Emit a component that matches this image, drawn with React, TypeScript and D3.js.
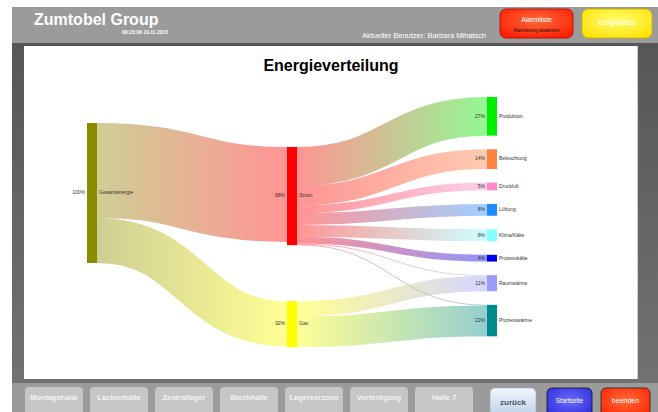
import { useMemo } from "react";
import * as d3 from "d3";

// Knoten (Sankey)
const nodeNames = [
  "Gesamtenergie",
  "Strom",
  "Gas",
  "Produktion",
  "Beleuchtung",
  "Druckluft",
  "Lüftung",
  "Klima/Kälte",
  "Prozesskälte",
  "Raumwärme",
  "Prozesswärme",
];
const nodeShares = ["100%", "68%", "32%", "27%", "14%", "5%", "8%", "8%", "4%", "11%", "22%"];
const nodeColumns = [0, 1, 1, 2, 2, 2, 2, 2, 2, 2, 2];
const nodeColors = [
  "#8b8b00",
  "#ff0000",
  "#ffff00",
  "#00ee00",
  "#ff8444",
  "#ff88cc",
  "#1e8cff",
  "#88ffff",
  "#0000ee",
  "#9b9bff",
  "#008b8b",
];

// Flüsse
const linkSources = [
  "Gesamtenergie",
  "Gesamtenergie",
  "Strom",
  "Strom",
  "Strom",
  "Strom",
  "Strom",
  "Strom",
  "Strom",
  "Strom",
  "Gas",
  "Gas",
];
const linkTargets = [
  "Strom",
  "Gas",
  "Produktion",
  "Beleuchtung",
  "Druckluft",
  "Lüftung",
  "Klima/Kälte",
  "Prozesskälte",
  "Raumwärme",
  "Prozesswärme",
  "Raumwärme",
  "Prozesswärme",
];
const linkValues = [67.3, 32, 27.4, 14, 5.5, 8.4, 8.4, 4.8, 0.6, 0.5, 10.8, 21.8];

// Navigation
const hallButtons = [
  "Montagehalle",
  "Lackierhalle",
  "Zentrallager",
  "Blechhalle",
  "Lagervorzone",
  "Vorfertigung",
  "Halle 7",
];

const W = 658;
const H = 412;
const NODE_W = 10;
const columnTop = [123, 147, 97];
const columnPadding = [0, 56, 13.6];
const FONT = "Arial, 'Liberation Sans', sans-serif";

type SNode = {
  name: string;
  share: string;
  color: string;
  col: number;
  value: number;
  x0: number;
  x1: number;
  y0: number;
  y1: number;
};
type SLink = {
  source: SNode;
  target: SNode;
  value: number;
  width: number;
  sy: number;
  ty: number;
};

function Sankey() {
  const { nodes, links } = useMemo(() => {
    const xScale = d3.scalePoint<number>().domain([0, 1, 2]).range([87, 487]);
    const hScale = d3.scaleLinear().domain([0, 100]).range([0, 141]);

    const nodes: SNode[] = nodeNames.map((name, i) => ({
      name,
      share: nodeShares[i],
      color: nodeColors[i],
      col: nodeColumns[i],
      value: 0,
      x0: xScale(nodeColumns[i]) ?? 0,
      x1: (xScale(nodeColumns[i]) ?? 0) + NODE_W,
      y0: 0,
      y1: 0,
    }));
    const byName = new Map(nodes.map((n) => [n.name, n]));
    const links: SLink[] = linkValues.map((v, i) => ({
      source: byName.get(linkSources[i])!,
      target: byName.get(linkTargets[i])!,
      value: v,
      width: hScale(v),
      sy: 0,
      ty: 0,
    }));

    nodes.forEach((n) => {
      const inV = d3.sum(links.filter((l) => l.target === n), (l) => l.value);
      const outV = d3.sum(links.filter((l) => l.source === n), (l) => l.value);
      n.value = Math.max(inV, outV);
    });

    // Spalten stapeln
    d3.range(3).forEach((c) => {
      let y = columnTop[c];
      nodes
        .filter((n) => n.col === c)
        .forEach((n) => {
          n.y0 = y;
          n.y1 = y + hScale(n.value);
          y = n.y1 + columnPadding[c];
        });
    });

    nodes.forEach((n) => {
      let y = n.y0;
      links
        .filter((l) => l.source === n)
        .sort((a, b) => a.target.y0 - b.target.y0)
        .forEach((l) => {
          l.sy = y + l.width / 2;
          y += l.width;
        });
      y = n.y0;
      links
        .filter((l) => l.target === n)
        .sort((a, b) => a.source.y0 - b.source.y0)
        .forEach((l) => {
          l.ty = y + l.width / 2;
          y += l.width;
        });
    });

    return { nodes, links };
  }, []);

  const linkPath = d3
    .linkHorizontal<{ source: [number, number]; target: [number, number] }, [number, number]>()
    .x((d) => d[0])
    .y((d) => d[1]);

  return (
    <g>
      <defs>
        {links.map((l, i) => (
          <linearGradient
            key={i}
            id={`lg-${i}`}
            gradientUnits="userSpaceOnUse"
            x1={l.source.x1}
            x2={l.target.x0}
            y1={0}
            y2={0}
          >
            <stop offset="0%" stopColor={l.source.color} />
            <stop offset="100%" stopColor={l.target.color} />
          </linearGradient>
        ))}
      </defs>
      {links.map((l, i) => (
        <path
          key={i}
          d={
            linkPath({
              source: [l.source.x1, l.sy],
              target: [l.target.x0, l.ty],
            }) ?? ""
          }
          fill="none"
          stroke={`url(#lg-${i})`}
          strokeOpacity={0.42}
          strokeWidth={Math.max(0.8, l.width)}
        />
      ))}
      {nodes.map((n) => (
        <g key={n.name}>
          <rect x={n.x0} y={n.y0} width={NODE_W} height={n.y1 - n.y0} fill={n.color} />
          <text
            x={n.x0 - 2}
            y={(n.y0 + n.y1) / 2}
            textAnchor="end"
            dominantBaseline="middle"
            fontSize={5}
            fill="#333"
            fontFamily={FONT}
          >
            {n.share}
          </text>
          <text
            x={n.x1 + 2}
            y={(n.y0 + n.y1) / 2}
            dominantBaseline="middle"
            fontSize={5}
            fill="#333"
            fontFamily={FONT}
          >
            {n.name}
          </text>
        </g>
      ))}
    </g>
  );
}

export default function App() {
  return (
    <div style={{ position: "absolute", left: 0, top: 0 }}>
      <svg width={W} height={H} viewBox={`0 0 ${W} ${H}`} style={{ display: "block" }}>
        <defs>
          <linearGradient id="frame" x1="0" y1="0" x2="0" y2="1">
            <stop offset="0%" stopColor="#565656" />
            <stop offset="100%" stopColor="#727272" />
          </linearGradient>
          <radialGradient id="alarm" cx="0.5" cy="0.4" r="0.7">
            <stop offset="0%" stopColor="#ff6a3a" />
            <stop offset="100%" stopColor="#ff1a00" />
          </radialGradient>
          <radialGradient id="event" cx="0.5" cy="0.4" r="0.7">
            <stop offset="0%" stopColor="#ffff70" />
            <stop offset="100%" stopColor="#ffe000" />
          </radialGradient>
          <linearGradient id="back" x1="0" y1="0" x2="0" y2="1">
            <stop offset="0%" stopColor="#f4f8ff" />
            <stop offset="100%" stopColor="#b8cce6" />
          </linearGradient>
          <radialGradient id="home" cx="0.5" cy="0.4" r="0.7">
            <stop offset="0%" stopColor="#6a6aff" />
            <stop offset="100%" stopColor="#2a2ad8" />
          </radialGradient>
          <radialGradient id="quit" cx="0.5" cy="0.4" r="0.7">
            <stop offset="0%" stopColor="#ff6a3a" />
            <stop offset="100%" stopColor="#ff2200" />
          </radialGradient>
        </defs>

        <rect x={0} y={0} width={W} height={H} fill="#ffffff" />

        {/* Kopfzeile */}
        <rect x={12} y={7} width={W - 12} height={36} fill="#9b9b9b" />
        <text x={34} y={25} fontSize={16} fontWeight="bold" fill="#fff" fontFamily={FONT}>
          Zumtobel Group
        </text>
        <text x={122} y={34} fontSize={5} fontWeight="bold" fill="#fff" fontFamily={FONT}>
          08:23:09 19.11.2015
        </text>
        <text x={362} y={38} fontSize={7.5} fill="#fff" fontFamily={FONT}>
          Aktueller Benutzer: Barbara Mihatsch
        </text>
        <rect x={500} y={9} width={73} height={29} rx={6} fill="url(#alarm)" stroke="#b00000" strokeWidth={0.8} />
        <text x={536.5} y={22} textAnchor="middle" fontSize={7} fill="#fff" fontFamily={FONT}>
          Alarmliste
        </text>
        <text x={536.5} y={32} textAnchor="middle" fontSize={4.5} fill="#111" fontFamily={FONT}>
          Alarmierung deaktiviert
        </text>
        <rect x={582} y={9} width={70} height={29} rx={6} fill="url(#event)" stroke="#c8b000" strokeWidth={0.8} />
        <text x={617} y={25} textAnchor="middle" fontSize={7} fill="#fff" fontFamily={FONT}>
          Ereignisliste
        </text>

        {/* Rahmen + Panel */}
        <rect x={12} y={43} width={W - 12} height={340} fill="url(#frame)" />
        <rect x={24} y={46} width={613} height={333} fill="#ffffff" />
        <line x1={637.5} y1={46} x2={637.5} y2={379} stroke="#cfcfcf" />

        <text
          x={331}
          y={71}
          textAnchor="middle"
          fontSize={16}
          fontWeight="bold"
          fill="#000"
          fontFamily={FONT}
        >
          Energieverteilung
        </text>

        <Sankey />

        {/* Fußzeile */}
        <rect x={12} y={383} width={W - 12} height={H - 383} fill="#9b9b9b" />
        {hallButtons.map((b, i) => (
          <g key={b}>
            <rect x={25 + i * 65} y={387} width={58} height={30} rx={4} fill="#c6c6c6" />
            <text
              x={25 + i * 65 + 29}
              y={400}
              textAnchor="middle"
              fontSize={7.5}
              fontWeight="bold"
              fill="#f4f4f4"
              fontFamily={FONT}
            >
              {b}
            </text>
          </g>
        ))}
        <rect x={490} y={388} width={46} height={30} rx={5} fill="url(#back)" stroke="#9ab" strokeWidth={0.6} />
        <text x={513} y={405} textAnchor="middle" fontSize={8} fontWeight="bold" fill="#4a5566" fontFamily={FONT}>
          zurück
        </text>
        <rect x={547} y={388} width={45} height={30} rx={5} fill="url(#home)" stroke="#111" strokeWidth={0.8} />
        <text x={569.5} y={403} textAnchor="middle" fontSize={6.5} fill="#fff" fontFamily={FONT}>
          Startseite
        </text>
        <rect x={601} y={388} width={49} height={30} rx={5} fill="url(#quit)" stroke="#222" strokeWidth={0.8} />
        <text x={625.5} y={403} textAnchor="middle" fontSize={7} fill="#fff" fontFamily={FONT}>
          beenden
        </text>
      </svg>
    </div>
  );
}
